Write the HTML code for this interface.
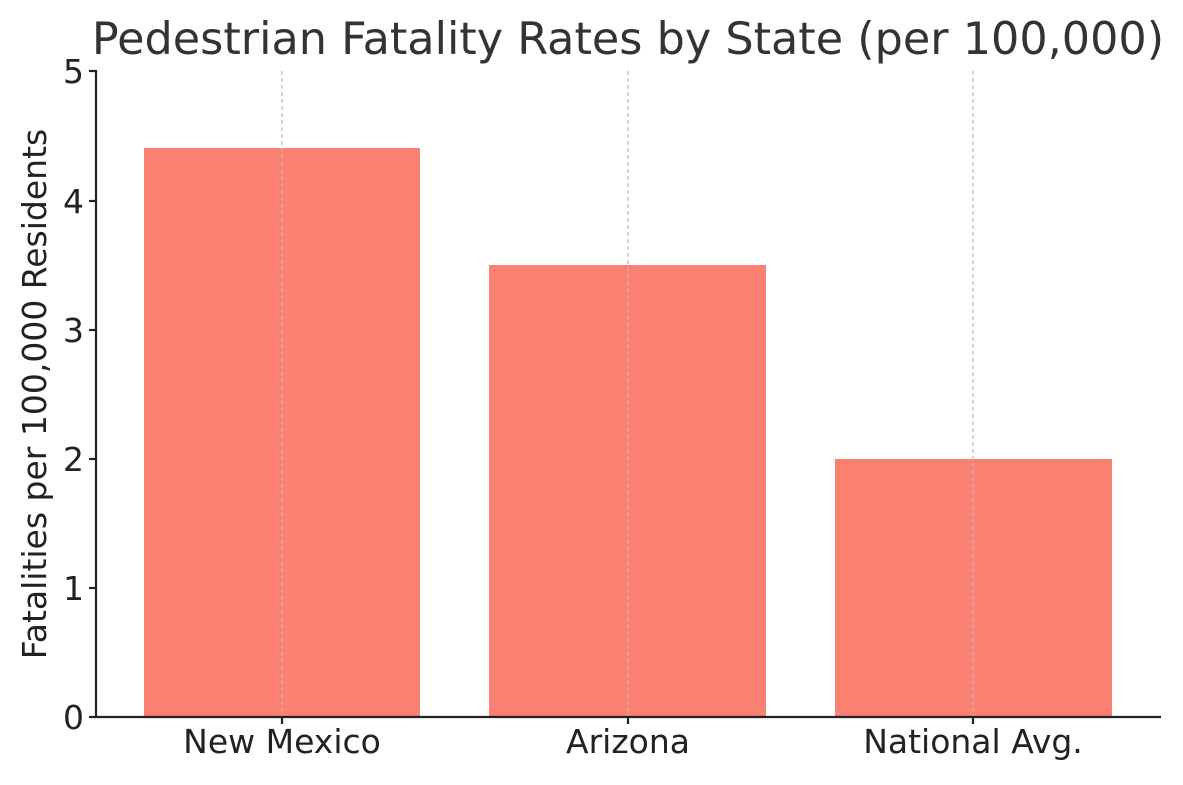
<!DOCTYPE html>
<html><head><style>body{margin:0;background:#fff}</style></head><body>
<svg width="1183" height="780" xmlns="http://www.w3.org/2000/svg" font-family="DejaVu Sans, Liberation Sans, sans-serif">
<rect width="1183" height="780" fill="#fff"/>
<text x="628" y="54" text-anchor="middle" font-size="44.5" fill="#333">Pedestrian Fatality Rates by State (per 100,000)</text>
<rect x="144" y="148" width="276" height="569" fill="#FA8072"/>
<rect x="489" y="265" width="277" height="452" fill="#FA8072"/>
<rect x="835" y="459" width="277" height="258" fill="#FA8072"/>
<g stroke="#bbb" stroke-width="1.2" stroke-dasharray="4,3">
<line x1="282" y1="71" x2="282" y2="717"/>
<line x1="628" y1="71" x2="628" y2="717"/>
<line x1="973" y1="71" x2="973" y2="717"/>
</g>
<g stroke="#222" stroke-width="2.2">
<line x1="96" y1="70" x2="96" y2="718"/>
<line x1="95" y1="717" x2="1161" y2="717"/>
<line x1="89" y1="717" x2="96" y2="717"/>
<line x1="89" y1="588" x2="96" y2="588"/>
<line x1="89" y1="459" x2="96" y2="459"/>
<line x1="89" y1="330" x2="96" y2="330"/>
<line x1="89" y1="201" x2="96" y2="201"/>
<line x1="89" y1="71" x2="96" y2="71"/>
<line x1="282" y1="717" x2="282" y2="724"/>
<line x1="628" y1="717" x2="628" y2="724"/>
<line x1="973" y1="717" x2="973" y2="724"/>
</g>
<g font-size="33" fill="#222" text-anchor="end">
<text x="84" y="729">0</text>
<text x="84" y="600">1</text>
<text x="84" y="471">2</text>
<text x="84" y="342">3</text>
<text x="84" y="213">4</text>
<text x="84" y="83">5</text>
</g>
<g font-size="33" fill="#222" text-anchor="middle">
<text x="282" y="753">New Mexico</text>
<text x="628" y="753">Arizona</text>
<text x="973" y="753">National Avg.</text>
</g>
<text transform="translate(46,394) rotate(-90)" text-anchor="middle" font-size="33" fill="#222">Fatalities per 100,000 Residents</text>
</svg>
</body></html>
